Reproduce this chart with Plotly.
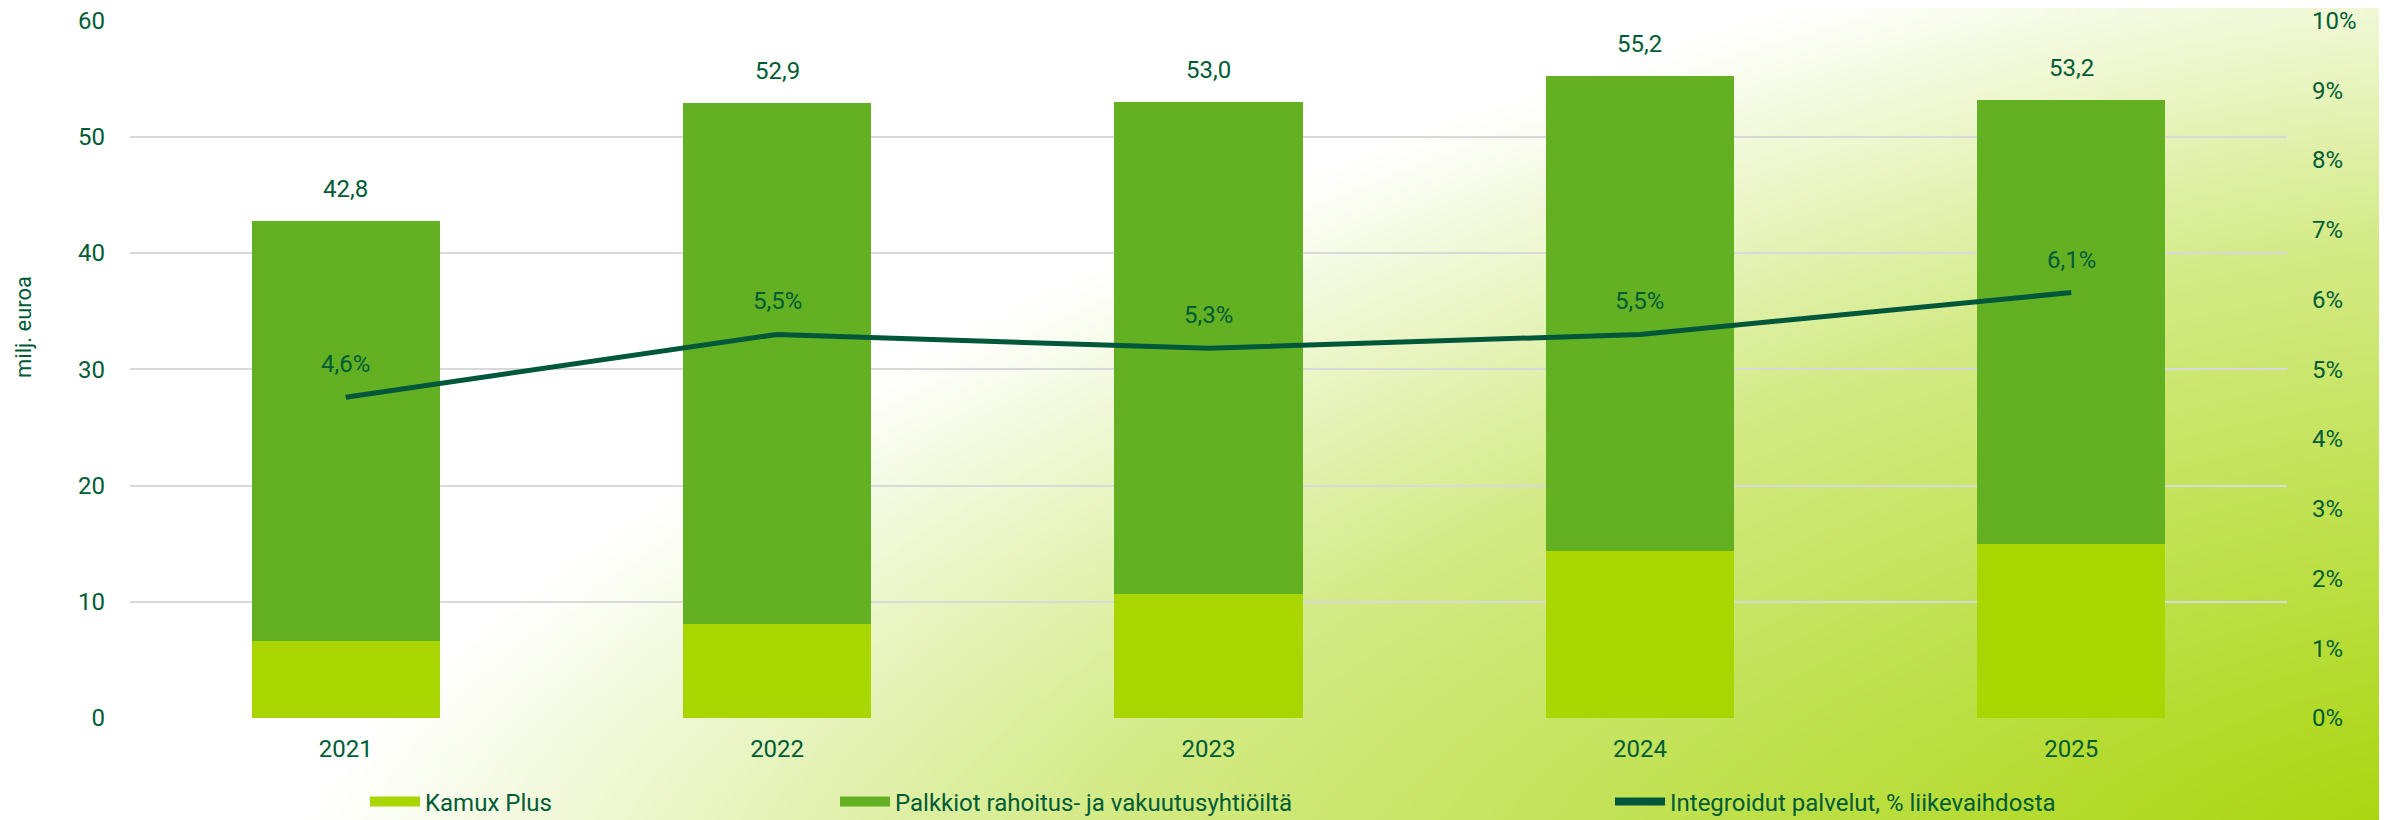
import numpy as np
import plotly.graph_objects as go

W, H = 2387, 820
OFF = 8  # default page body margin in the html

years = ["2021", "2022", "2023", "2024", "2025"]
kamux_plus = [6.6, 8.1, 10.7, 14.4, 15.0]
palkkiot = [36.2, 44.8, 42.3, 40.8, 38.2]
totals = [42.8, 52.9, 53.0, 55.2, 53.2]
integroidut_pct = [0.046, 0.055, 0.053, 0.055, 0.061]

name_kamux = "Kamux Plus"
name_palkkiot = "Palkkiot rahoitus- ja vakuutusyhtiöiltä"
name_line = "Integroidut palvelut, % liikevaihdosta"
y_title = "milj. euroa"

C_KAMUX = "#A9D500"
C_PALK = "#63B023"
C_LINE = "#00573A"
C_TEXT = "#005C35"
C_GRID = "#D9D9D9"
FONT = "Roboto"


def px(xp):
    return (xp - OFF) / W


def py(yp):
    return (H - (yp - OFF)) / H


# plot area (screen pixels)
L, R, T, B = 130, 2287, 20, 718
xdom = [px(L), px(R)]
ydom = [py(B), py(T)]

# --- decorative gradient background (white -> lime, towards bottom-right)
gx = np.linspace(0, 1, 120)
gy = np.linspace(0, 1, 50)
XX, YY = np.meshgrid(gx, gy)
dx = 1 - XX
dy = YY * 0.76
p = 1.4
d = (dx ** p + dy ** p) ** (1 / p)
tz = np.interp(d, [0, 0.55, 0.88], [1, 0.5, 0])

fig = go.Figure()
fig.add_trace(go.Heatmap(
    x=gx, y=gy, z=tz, zmin=0, zmax=1, zsmooth="best",
    colorscale=[[0, "#FFFFFF"], [1, "#A8D50C"]], showscale=False,
    hoverinfo="skip", xaxis="x", yaxis="y", showlegend=False,
))

fig.add_trace(go.Bar(
    x=years, y=kamux_plus, name=name_kamux, marker_color=C_KAMUX,
    marker_line_width=0, xaxis="x2", yaxis="y2", showlegend=False,
))
fig.add_trace(go.Bar(
    x=years, y=palkkiot, name=name_palkkiot, marker_color=C_PALK,
    marker_line_width=0, xaxis="x2", yaxis="y2", showlegend=False,
))
fig.add_trace(go.Scatter(
    x=years, y=integroidut_pct, name=name_line, mode="lines",
    line=dict(color=C_LINE, width=5), xaxis="x2", yaxis="y3", showlegend=False,
))

# legend entries (swatches)
fig.add_trace(go.Scatter(x=[None], y=[None], mode="lines", name=name_kamux,
                         line=dict(color=C_KAMUX, width=15), xaxis="x2", yaxis="y2",
                         legend="legend"))
fig.add_trace(go.Scatter(x=[None], y=[None], mode="lines", name=name_palkkiot,
                         line=dict(color=C_PALK, width=15), xaxis="x2", yaxis="y2",
                         legend="legend2"))
fig.add_trace(go.Scatter(x=[None], y=[None], mode="lines", name=name_line,
                         line=dict(color=C_LINE, width=8), xaxis="x2", yaxis="y3",
                         legend="legend3"))

annotations = []
# on a category axis, annotation x is the category index
for i, tot in enumerate(totals):
    annotations.append(dict(x=i, y=tot, xref="x2", yref="y2",
                            text=f"{tot:.1f}".replace(".", ","), showarrow=False,
                            yanchor="middle", yshift=32,
                            font=dict(family=FONT, size=24, color=C_TEXT)))
for i, v in enumerate(integroidut_pct):
    annotations.append(dict(x=i, y=v, xref="x2", yref="y3",
                            text=f"{v*100:.1f}%".replace(".", ","), showarrow=False,
                            yanchor="middle", yshift=33,
                            font=dict(family=FONT, size=24, color=C_TEXT)))
annotations.append(dict(x=px(23), y=py(327), xref="paper", yref="paper",
                        text=y_title, textangle=-90, showarrow=False,
                        xanchor="center", yanchor="middle",
                        font=dict(family=FONT, size=22, color=C_TEXT)))

leg_common = dict(orientation="h", yanchor="middle", y=py(802),
                  xanchor="left", bgcolor="rgba(0,0,0,0)", itemwidth=50,
                  font=dict(family=FONT, size=24, color=C_TEXT))

fig.update_layout(
    width=W, height=H,
    margin=dict(l=0, r=0, t=0, b=0, autoexpand=False),
    paper_bgcolor="#FFFFFF", plot_bgcolor="rgba(0,0,0,0)",
    separators=", ",
    barmode="stack", bargap=0.564,
    font=dict(family=FONT, size=24, color=C_TEXT),
    xaxis=dict(domain=[0, 1], range=[-OFF / W, 1 - OFF / W], visible=False, fixedrange=True),
    yaxis=dict(domain=[0, 1], range=[OFF / H, 1 + OFF / H], visible=False, fixedrange=True),
    xaxis2=dict(domain=xdom, anchor="y2", type="category", range=[-0.5, 4.5],
                showgrid=False, showline=False, zeroline=False, ticks="",
                ticklabelstandoff=14,
                tickfont=dict(family=FONT, size=24, color=C_TEXT)),
    yaxis2=dict(domain=ydom, anchor="x2", range=[0, 60.05], dtick=10, tick0=0,
                showgrid=True, gridcolor=C_GRID, gridwidth=2, zeroline=False,
                showline=False, ticks="", ticklabelstandoff=24,
                ticklabeloverflow="allow",
                tickfont=dict(family=FONT, size=24, color=C_TEXT)),
    yaxis3=dict(overlaying="y2", anchor="x2", side="right", range=[0, 0.10008],
                dtick=0.01, tick0=0, tickformat=".0%", showgrid=False,
                zeroline=False, showline=False, ticks="", ticklabelstandoff=24,
                ticklabeloverflow="allow",
                tickfont=dict(family=FONT, size=24, color=C_TEXT)),
    legend=dict(x=px(369 - 4), **leg_common),
    legend2=dict(x=px(840 - 5), **leg_common),
    legend3=dict(x=px(1614 - 4), **leg_common),
    annotations=annotations,
)

fig.write_html("out.html")
